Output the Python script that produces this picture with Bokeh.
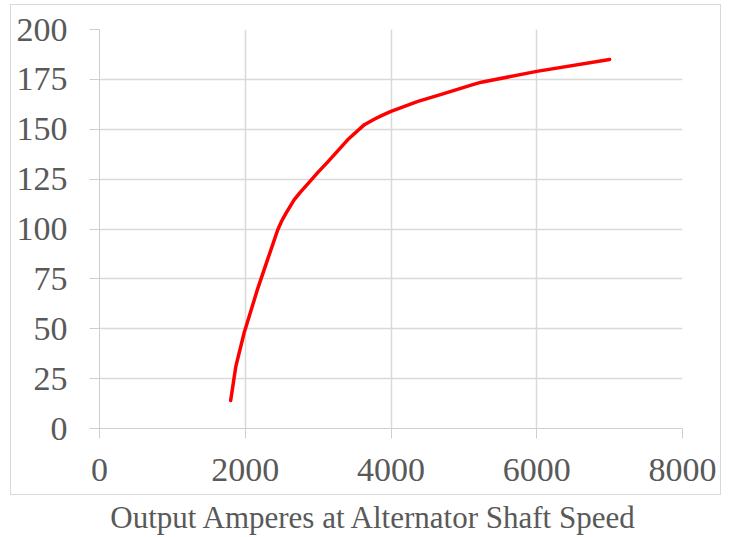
from bokeh.plotting import figure
from bokeh.models import FixedTicker, Div
from bokeh.layouts import column
from bokeh.embed import file_html
from bokeh.resources import INLINE

# Data
shaft_speed = [1800, 1870, 1985, 2120, 2170, 2305, 2445, 2500, 2560, 2670, 2760, 2855, 3000, 3130,
               3405, 3635, 3770, 3870, 4000, 4370, 4690, 5100, 5240, 6000, 7000]
output_amps = [14, 31, 48, 64, 70, 84.5, 99.5, 104, 108, 114.6, 118.6, 122.5, 128.5, 133.5,
               144.7, 152.3, 155, 156.8, 159, 164, 167.5, 172.1, 173.6, 179, 185]
x_ticks = [0, 2000, 4000, 6000, 8000]
y_ticks = [0, 25, 50, 75, 100, 125, 150, 175, 200]
title_text = "Output Amperes at Alternator Shaft Speed"

FONT = "Liberation Serif"
GRID = "#d9d9d9"
TXT = "#595959"

p = figure(width=711, height=491, output_backend="svg", toolbar_location=None,
           x_range=(0, 8000), y_range=(0, 200),
           min_border_left=88, min_border_right=40, min_border_top=24, min_border_bottom=68,
           margin=(4, 0, 0, 10),
           styles={"border": "1px solid #d9d9d9", "box-sizing": "border-box"})
p.outline_line_color = None
p.background_fill_color = "white"
p.border_fill_color = "white"

p.line(shaft_speed, output_amps, line_color="#ff0000", line_width=3.5,
       line_cap="round", line_join="round")

p.xaxis.ticker = FixedTicker(ticks=x_ticks)
p.yaxis.ticker = FixedTicker(ticks=y_ticks)
for ax in (p.xaxis, p.yaxis):
    ax.axis_line_color = "#cfcfcf"
    ax.major_tick_line_color = "#cfcfcf"
    ax.major_tick_out = 10
    ax.major_tick_in = 0
    ax.minor_tick_line_color = None
    ax.major_label_text_font = FONT
    ax.major_label_text_font_size = "34px"
    ax.major_label_text_color = TXT
p.yaxis.major_label_standoff = 22
p.xaxis.major_label_standoff = 20

p.xgrid.ticker = FixedTicker(ticks=x_ticks)
p.ygrid.ticker = FixedTicker(ticks=y_ticks)
p.xgrid.grid_line_color = GRID
p.ygrid.grid_line_color = GRID
p.xgrid.grid_line_width = 1.5
p.ygrid.grid_line_width = 1.5

title = Div(text=title_text, width=714, height=36,
            styles={"font-family": FONT, "font-size": "31px", "color": TXT,
                    "text-align": "center", "line-height": "31px", "padding-top": "2px",
                    "padding-left": "21px", "white-space": "nowrap"})

layout = column(p, title, spacing=0)
open("out.html", "w").write(file_html(layout, INLINE))
